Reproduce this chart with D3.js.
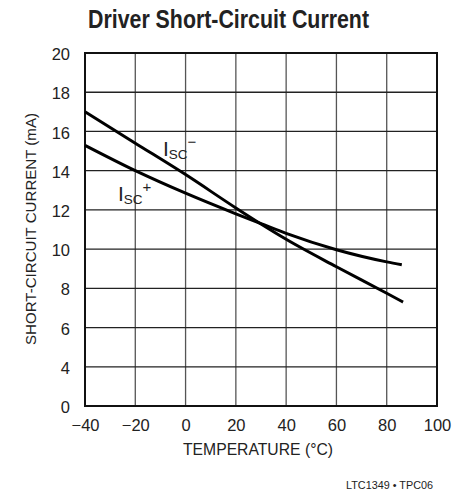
<!DOCTYPE html>
<html><head><meta charset="utf-8">
<script src="https://cdn.jsdelivr.net/npm/d3@7/dist/d3.min.js"></script>
<style>body{margin:0;background:#fff}</style></head>
<body><svg id="c" width="463" height="495"></svg>
<script>
const tempsMinus = [-40, -20, 0, 20, 30, 40, 60, 80, 86.5];
const iscMinus   = [17.0, 15.4, 13.8, 12.1, 11.28, 10.5, 9.1, 7.75, 7.3];
const tempsPlus  = [-40, -20, 0, 20, 30, 40, 60, 80, 86];
const iscPlus    = [15.29, 14.0, 12.85, 11.8, 11.3, 10.8, 9.97, 9.35, 9.2];
const xTicks = [-40, -20, 0, 20, 40, 60, 80, 100];
const yTicks = [0, 4, 6, 8, 10, 12, 14, 16, 18, 20];
const title = "Driver Short-Circuit Current";
const xTitle = "TEMPERATURE (°C)";
const yTitle = "SHORT-CIRCUIT CURRENT (mA)";
const footer = "LTC1349 • TPC06";

const svg = d3.select("#c");
const x = d3.scaleLinear().domain([-40, 100]).range([85, 437]);
// broken axis: 0..4 spans one grid interval
const y = d3.scaleLinear().domain([0, 4, 20]).range([406, 366.8, 53]);
const font = "'Liberation Sans', Arial, sans-serif";
const narrow = "'Liberation Sans Narrow', 'Liberation Sans', Arial, sans-serif";

// grid
svg.append("g").selectAll("line").data(xTicks.slice(1, -1)).join("line")
  .attr("x1", d => x(d)).attr("x2", d => x(d)).attr("y1", y(20)).attr("y2", y(0))
  .attr("stroke", "#555").attr("stroke-width", 1.3);
svg.append("g").selectAll("line").data(yTicks.slice(1, -1)).join("line")
  .attr("y1", d => y(d)).attr("y2", d => y(d)).attr("x1", x(-40)).attr("x2", x(100))
  .attr("stroke", "#222").attr("stroke-width", 1.3);
svg.append("rect").attr("x", x(-40)).attr("y", y(20))
  .attr("width", x(100) - x(-40)).attr("height", y(0) - y(20))
  .attr("fill", "none").attr("stroke", "#111").attr("stroke-width", 2);

// axes labels via d3 axis
const xAxis = svg.append("g").attr("transform", `translate(0,${y(0)})`)
  .call(d3.axisBottom(x).tickValues(xTicks).tickSize(0).tickPadding(13)
    .tickFormat(d => d < 0 ? "\u2212" + Math.abs(d) : String(d)));
xAxis.select(".domain").remove();
xAxis.selectAll("text").attr("font-family", font).attr("font-size", 16.5).attr("fill", "#222")
  .attr("dy", "0.75em");
const yAxis = svg.append("g").attr("transform", `translate(${x(-40)},0)`)
  .call(d3.axisLeft(y).tickValues(yTicks).tickSize(0).tickPadding(15));
yAxis.select(".domain").remove();
yAxis.selectAll("text").attr("font-family", font).attr("font-size", 16.5).attr("fill", "#222")
  .attr("dy", "0.4em");

// curves
const line = d3.line().x(d => x(d[0])).y(d => y(d[1])).curve(d3.curveMonotoneX);
svg.append("path").datum(tempsMinus.map((t, i) => [t, iscMinus[i]]))
  .attr("d", line).attr("fill", "none").attr("stroke", "#000").attr("stroke-width", 3);
svg.append("path").datum(tempsPlus.map((t, i) => [t, iscPlus[i]]))
  .attr("d", line).attr("fill", "none").attr("stroke", "#000").attr("stroke-width", 3);

// curve labels
function label(px, py, sup) {
  const t = svg.append("text").attr("x", px).attr("y", py)
    .attr("font-family", narrow).attr("fill", "#222");
  t.append("tspan").attr("font-size", 21).text("I");
  t.append("tspan").attr("font-size", 13.5).attr("dy", 3).text("SC");
  t.append("tspan").attr("font-size", 15).attr("dy", -12).text(sup);
}
label(163, 156, "\u2212");
label(118, 201, "+");

// titles
svg.append("text").attr("x", 88).attr("y", 28)
  .attr("font-family", narrow).attr("font-weight", "bold").attr("font-size", 25)
  .attr("fill", "#222").attr("textLength", 281).attr("lengthAdjust", "spacingAndGlyphs").text(title);
svg.append("text").attr("x", 183).attr("y", 455)
  .attr("font-family", font).attr("font-size", 16.5).attr("fill", "#222")
  .attr("textLength", 150).attr("lengthAdjust", "spacingAndGlyphs").text(xTitle);
svg.append("text").attr("transform", "translate(36,345) rotate(-90)")
  .attr("font-family", font).attr("font-size", 15.5).attr("fill", "#222")
  .attr("textLength", 232).attr("lengthAdjust", "spacingAndGlyphs").text(yTitle);
svg.append("text").attr("x", 346).attr("y", 489)
  .attr("font-family", font).attr("font-size", 11).attr("fill", "#222")
  .attr("textLength", 87).attr("lengthAdjust", "spacingAndGlyphs").text(footer);
</script></body></html>
